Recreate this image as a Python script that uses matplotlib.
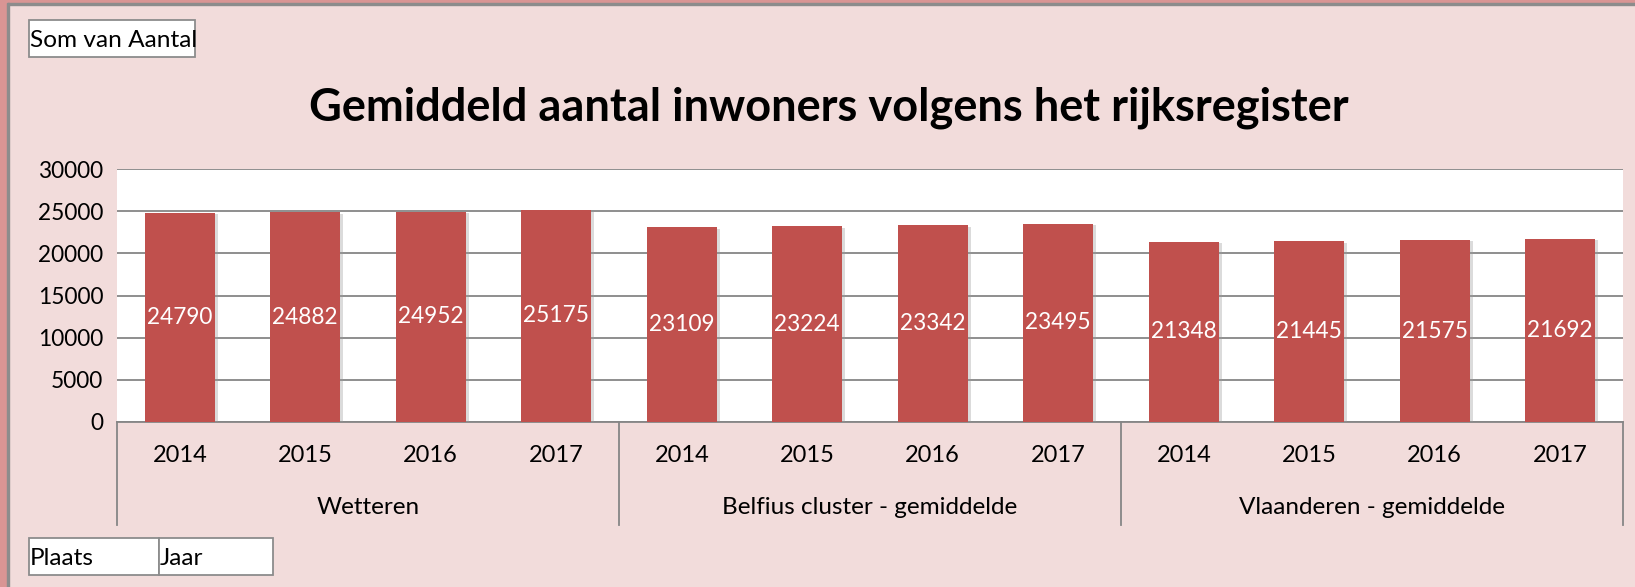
import matplotlib
matplotlib.use("Agg")
import matplotlib.pyplot as plt
from matplotlib.patches import Rectangle
from matplotlib.transforms import blended_transform_factory
import matplotlib.patheffects as pe

groups = ["Wetteren", "Belfius cluster - gemiddelde", "Vlaanderen - gemiddelde"]
years = ["2014", "2015", "2016", "2017"]
values = [24790, 24882, 24952, 25175,
          23109, 23224, 23342, 23495,
          21348, 21445, 21575, 21692]
yticks = [0, 5000, 10000, 15000, 20000, 25000, 30000]
title = "Gemiddeld aantal inwoners volgens het rijksregister"

W, H = 1635, 587
FONT = "Lato"
bg = "#F2DCDB"
bar_c = "#C0504D"
grid_c = "#868686"

fig = plt.figure(figsize=(W / 100, H / 100), dpi=100, facecolor=bg)

def px(x0, y0, x1, y1):
    return [x0 / W, 1 - y1 / H, (x1 - x0) / W, (y1 - y0) / H]

# borders
fig.patches.append(Rectangle((0, 1 - 3 / H), 1, 3 / H, transform=fig.transFigure, color="#D99594", zorder=0))
fig.patches.append(Rectangle((0, 1 - 5 / H), 1, 2 / H, transform=fig.transFigure, color="#8C8C8C", zorder=0))
fig.patches.append(Rectangle((0, 0), 7 / W, 1, transform=fig.transFigure, color="#D99594", zorder=0))
fig.patches.append(Rectangle((7 / W, 0), 1.5 / W, 1 - 3 / H, transform=fig.transFigure, color="#8C8C8C", zorder=0))

ax_left, ax_right, ax_top, ax_bot = 117, 1623, 169, 422
ax = fig.add_axes(px(ax_left, ax_top, ax_right, ax_bot))
ax.set_facecolor("white")

n = len(values)
xs = list(range(n))
bars = ax.bar(xs, values, width=0.56, color=bar_c, zorder=3)
for b in bars:
    b.set_path_effects([pe.SimplePatchShadow(offset=(2, -1), shadow_rgbFace="#9a9a9a", alpha=0.35), pe.Normal()])

for x, v in zip(xs, values):
    ax.text(x, v / 2, str(v), ha="center", va="center", color="white",
            fontsize=16.3, family=FONT, zorder=4)

ax.set_xlim(-0.5, n - 0.5)
ax.set_ylim(0, 30000)
ax.set_yticks(yticks)
ax.set_yticklabels([str(t) for t in yticks], fontsize=16.3, family=FONT)
ax.tick_params(axis="y", length=0, pad=10)
ax.set_xticks([])
ax.yaxis.grid(True, color=grid_c, lw=1.3, zorder=1)
for s in ["left", "right", "top"]:
    ax.spines[s].set_visible(False)
ax.spines["bottom"].set_color(grid_c)
ax.spines["bottom"].set_linewidth(1.3)

h = ax_bot - ax_top
trans = blended_transform_factory(ax.transData, ax.transAxes)
y_year = -(456 - ax_bot) / h
y_group = -(507 - ax_bot) / h
y_sep = -(525 - ax_bot) / h
for i, v in enumerate(values):
    ax.text(i, y_year, years[i % 4], transform=trans, ha="center", va="center",
            fontsize=17, family=FONT)
for g, name in enumerate(groups):
    ax.text(g * 4 + 1.5, y_group, name, transform=trans, ha="center", va="center",
            fontsize=17.5, family=FONT)
for xsep in [-0.5, 3.5, 7.5, 11.5]:
    ax.plot([xsep, xsep], [0, y_sep], transform=trans, color=grid_c, lw=1.3, clip_on=False)

# title
fig.text(829 / W, 1 - 108 / H, title, ha="center", va="center", fontsize=32.5,
         fontweight="bold", family=FONT)

# field buttons
def field(x0, y0, x1, y1, label):
    fig.patches.append(Rectangle((x0 / W, 1 - y1 / H), (x1 - x0) / W, (y1 - y0) / H,
                                 transform=fig.transFigure, facecolor="white",
                                 edgecolor="#8C8C8C", lw=1.3))
    fig.text((x0 + 1) / W, 1 - ((y0 + y1) / 2 + 2) / H, label, ha="left", va="center",
             fontsize=17.6, family=FONT)

field(29, 20, 195, 57, "Som van Aantal")
field(29, 538, 159, 575, "Plaats")
field(159, 538, 273, 575, "Jaar")

fig.savefig("out.png", dpi=100, facecolor=bg)
